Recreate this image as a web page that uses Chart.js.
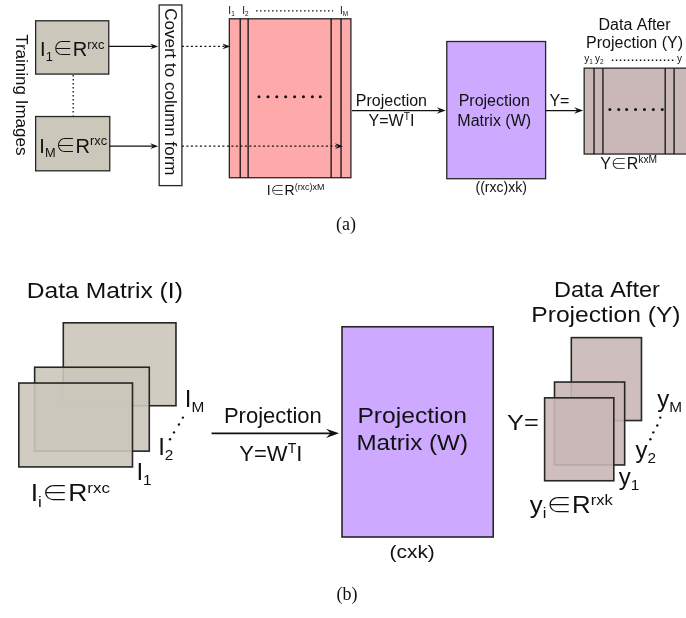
<!DOCTYPE html>
<html>
<head>
<meta charset="utf-8">
<script src="https://cdn.jsdelivr.net/npm/chart.js@4/dist/chart.umd.min.js"></script>
<style>
  html, body { margin: 0; padding: 0; background: #ffffff; }
  #wrap { width: 686px; height: 618px; }
</style>
</head>
<body>
<div id="wrap"><canvas id="c" width="686" height="618"></canvas></div>
<script>
// ---- palette & fonts ----
const INK = '#111111';
const EDGE = '#262626';
const GREY = '#cbc7bb';
const PINK = '#ffaaaa';
const PURPLE = '#cdaaff';
const BROWN = '#c9b8b7';
const SANS = "'Liberation Sans', Arial, Helvetica, sans-serif";
const SERIF = "'Liberation Serif', 'Times New Roman', serif";
const SYMBOL = "'Noto Sans CJK SC', 'Noto Sans CJK JP', 'DejaVu Sans', sans-serif";

// ---- panel (a): image -> column matrix -> projection ----
const imageBoxesA   = [[32, 17, 106, 71], [32, 114, 107, 169]];
const columnBox     = [157, 1, 180, 184];
const dataMatrixA   = [228, 15, 351, 176];
const dataColumnsA  = [239, 247, 331, 341];
const projBoxA      = [448, 38, 548, 177];
const resultMatrixA = [587, 65, 700, 152];
const resultColsA   = [597, 606, 669, 678];

// ---- panel (b): stacked images -> projection -> stacked results ----
const imageStackB  = [[60, 323, 174, 407], [31, 368, 147, 453], [15, 384, 130, 469]];
const projBoxB     = [342, 327, 495, 540];
const resultStackB = [[574, 338, 645, 422], [557, 383, 628, 467], [547, 399, 617, 483]];

// arrows: x0, y0, x1, y1, dashed, head length, line width
const arrows = [
  [106, 43, 156, 43, false, 8, 1.3],
  [107, 144, 156, 144, false, 8, 1.3],
  [180, 43, 229, 43, true, 8, 1.2],
  [180, 144, 343, 144, true, 8, 1.2],
  [352, 108, 447, 108, false, 9, 1.3],
  [548, 108, 586, 108, false, 9, 1.3],
  [210, 435, 339, 435, false, 13, 1.6]
];

// dotted connectors without heads
const dottedLines = [
  [70, 72, 70, 113],
  [255, 7, 333, 7],
  [615, 57, 680, 57]
];

// ellipsis dots drawn as scatter points
const ellipsisA1 = [[258, 94], [267, 94], [276, 94], [285, 94], [294, 94], [303, 94], [312, 94], [320, 94]];
const ellipsisA2 = [[613, 107], [622, 107], [630, 107], [639, 107], [648, 107], [657, 107], [666, 107]];
const ellipsisB1 = [[168, 441], [172, 434], [177, 426], [181, 419]];
const ellipsisB2 = [[654, 441], [657, 434], [661, 427], [664, 419]];

// text: markup uses _{..} for subscripts and ^{..} for superscripts
const labelsA = [
  { t: 'I_{1}∈R^{rxc}', x: 69, y: 53, s: 20 },
  { t: 'I_{M}∈R^{rxc}', x: 70, y: 151, s: 20 },
  { t: 'Training Images', x: 18, y: 92, s: 17, r: 90 },
  { t: 'Covert to column form', x: 168.5, y: 89, s: 17, r: 90 },
  { t: 'I_{1}', x: 227, y: 10, s: 10, a: 'left' },
  { t: 'I_{2}', x: 241, y: 10, s: 10, a: 'left' },
  { t: 'I_{M}', x: 340, y: 10, s: 10, a: 'left' },
  { t: 'I∈R^{(rxc)xM}', x: 295, y: 194, s: 14 },
  { t: 'Projection', x: 392, y: 103, s: 16 },
  { t: 'Y=W^{T}I', x: 392, y: 124, s: 16 },
  { t: 'Projection', x: 496, y: 103, s: 16 },
  { t: 'Matrix (W)', x: 496, y: 124, s: 16 },
  { t: '((rxc)xk)', x: 503, y: 190, s: 14 },
  { t: 'Y=', x: 562, y: 103, s: 16 },
  { t: 'Data After', x: 638, y: 26, s: 16 },
  { t: 'Projection (Y)', x: 638, y: 45, s: 16 },
  { t: 'y_{1}', x: 587, y: 59, s: 10, a: 'left' },
  { t: 'y_{2}', x: 598, y: 59, s: 10, a: 'left' },
  { t: 'y', x: 681, y: 59, s: 10, a: 'left' },
  { t: 'Y∈R^{kxM}', x: 632, y: 167, s: 16 },
  { t: '(a)', x: 346, y: 229, s: 18, f: SERIF }
];

const labelsB = [
  { t: 'Data Matrix (I)', x: 102, y: 298, s: 22, sx: 1.12 },
  { t: 'I_{M}', x: 183, y: 408, s: 24, a: 'left' },
  { t: 'I_{2}', x: 156, y: 457, s: 24, a: 'left' },
  { t: 'I_{1}', x: 134, y: 482, s: 24, a: 'left' },
  { t: 'I_{i}∈R^{rxc}', x: 27, y: 504, s: 23, a: 'left', sx: 1.15 },
  { t: 'Projection', x: 272, y: 425, s: 22 },
  { t: 'Y=W^{T}I', x: 270, y: 463, s: 22 },
  { t: 'Projection', x: 413, y: 425, s: 22, sx: 1.12 },
  { t: 'Matrix (W)', x: 413, y: 452, s: 22, sx: 1.1 },
  { t: '(cxk)', x: 413, y: 561, s: 19, sx: 1.1 },
  { t: 'Data After', x: 610, y: 297, s: 22, sx: 1.07 },
  { t: 'Projection (Y)', x: 609, y: 322, s: 22, sx: 1.12 },
  { t: 'Y=', x: 525, y: 432, s: 22, sx: 1.15 },
  { t: 'y_{M}', x: 661, y: 408, s: 24, a: 'left' },
  { t: 'y_{2}', x: 639, y: 460, s: 24, a: 'left' },
  { t: 'y_{1}', x: 622, y: 487, s: 24, a: 'left' },
  { t: 'y_{i}∈R^{rxk}', x: 532, y: 516, s: 23, a: 'left', sx: 1.12 },
  { t: '(b)', x: 347, y: 604, s: 18, f: SERIF }
];

// ---- drawing helpers ----
function parseRich(str) {
  const out = [];
  const re = /([_^])\{([^}]*)\}|(∈)|([^_^∈]+)/g;
  let m;
  while ((m = re.exec(str))) {
    if (m[3]) out.push([m[3], 'sym']);
    else if (m[4]) out.push([m[4], '']);
    else out.push([m[2], m[1] === '^' ? 'sup' : 'sub']);
  }
  return out;
}

function fontOf(kind, size, fam) {
  if (kind === 'sym') return '300 ' + size + 'px ' + SYMBOL;
  if (kind === 'sup' || kind === 'sub') return (size * 0.64) + 'px ' + fam;
  return size + 'px ' + fam;
}

function drawRich(ctx, item, px, py) {
  const size = item.s;
  const fam = item.f || SANS;
  const parts = parseRich(item.t).map(([t, k]) => {
    ctx.font = fontOf(k, size, fam);
    return { t, k, w: ctx.measureText(t).width };
  });
  const total = parts.reduce((acc, p) => acc + p.w, 0);
  const align = item.a || 'center';
  let cx = align === 'center' ? -total / 2 : align === 'right' ? -total : 0;
  ctx.save();
  ctx.translate(px, py);
  let base = 0;
  if (item.r) {
    ctx.rotate(item.r * Math.PI / 180);
    base = size * 0.35;
  }
  ctx.scale(item.sx || 1, 1);
  ctx.textAlign = 'left';
  ctx.textBaseline = 'alphabetic';
  ctx.fillStyle = INK;
  parts.forEach(p => {
    const dy = p.k === 'sup' ? -size * 0.38 : p.k === 'sub' ? size * 0.22 : 0;
    ctx.font = fontOf(p.k, size, fam);
    ctx.fillText(p.t, cx, base + dy);
    cx += p.w;
  });
  ctx.restore();
}

function toPx(chart, x, y) {
  return [chart.scales.x.getPixelForValue(x), chart.scales.y.getPixelForValue(y)];
}

function rect(ctx, chart, r, fill, lw) {
  const [x0, y0] = toPx(chart, r[0], r[1]);
  const [x1, y1] = toPx(chart, r[2], r[3]);
  ctx.fillStyle = fill;
  ctx.fillRect(x0, y0, x1 - x0, y1 - y0);
  ctx.lineWidth = lw;
  ctx.strokeStyle = EDGE;
  ctx.strokeRect(x0, y0, x1 - x0, y1 - y0);
}

function vLines(ctx, chart, xs, r, lw) {
  ctx.strokeStyle = INK;
  ctx.lineWidth = lw;
  xs.forEach(x => {
    const [px, top] = toPx(chart, x, r[1]);
    const [, bot] = toPx(chart, x, r[3]);
    ctx.beginPath();
    ctx.moveTo(px, top);
    ctx.lineTo(px, bot);
    ctx.stroke();
  });
}

function arrow(ctx, chart, a) {
  const [x0, y0] = toPx(chart, a[0], a[1]);
  const [x1, y1] = toPx(chart, a[2], a[3]);
  const len = a[5];
  const half = len * 0.36;
  const ang = Math.atan2(y1 - y0, x1 - x0);
  ctx.save();
  ctx.strokeStyle = INK;
  ctx.fillStyle = INK;
  ctx.lineWidth = a[6];
  ctx.setLineDash(a[4] ? [2, 2.5] : []);
  ctx.beginPath();
  ctx.moveTo(x0, y0);
  ctx.lineTo(x1 - Math.cos(ang) * len * 0.6, y1 - Math.sin(ang) * len * 0.6);
  ctx.stroke();
  ctx.setLineDash([]);
  ctx.translate(x1, y1);
  ctx.rotate(ang);
  ctx.beginPath();
  ctx.moveTo(0, 0);
  ctx.lineTo(-len, -half);
  ctx.lineTo(-len * 0.65, 0);
  ctx.lineTo(-len, half);
  ctx.closePath();
  ctx.fill();
  ctx.restore();
}

const diagram = {
  id: 'diagram',
  beforeDatasetsDraw(chart) {
    const ctx = chart.ctx;
    ctx.save();
    // panel (a)
    imageBoxesA.forEach(r => rect(ctx, chart, r, GREY, 1.3));
    rect(ctx, chart, columnBox, '#ffffff', 1.3);
    rect(ctx, chart, dataMatrixA, PINK, 1.3);
    vLines(ctx, chart, dataColumnsA, dataMatrixA, 1.3);
    rect(ctx, chart, projBoxA, PURPLE, 1.3);
    rect(ctx, chart, resultMatrixA, BROWN, 1.3);
    vLines(ctx, chart, resultColsA, resultMatrixA, 1.3);
    // panel (b): translucent sheets so the edges behind show faintly
    imageStackB.forEach(r => rect(ctx, chart, r, 'rgba(203,199,187,0.9)', 1.6));
    rect(ctx, chart, projBoxB, PURPLE, 1.6);
    resultStackB.forEach(r => rect(ctx, chart, r, 'rgba(201,184,183,0.9)', 1.6));
    // dotted connectors
    ctx.strokeStyle = INK;
    ctx.lineWidth = 1.3;
    ctx.setLineDash([1.5, 2.5]);
    dottedLines.forEach(l => {
      const [x0, y0] = toPx(chart, l[0], l[1]);
      const [x1, y1] = toPx(chart, l[2], l[3]);
      ctx.beginPath();
      ctx.moveTo(x0, y0);
      ctx.lineTo(x1, y1);
      ctx.stroke();
    });
    ctx.setLineDash([]);
    arrows.forEach(a => arrow(ctx, chart, a));
    ctx.restore();
  },
  afterDatasetsDraw(chart) {
    const ctx = chart.ctx;
    [...labelsA, ...labelsB].forEach(item => {
      const [px, py] = toPx(chart, item.x, item.y);
      drawRich(ctx, item, px, py);
    });
  }
};

const dotSet = (pts, r) => ({
  data: pts.map(([x, y]) => ({ x, y })),
  pointRadius: r,
  pointBackgroundColor: INK,
  pointBorderWidth: 0,
  showLine: false
});

new Chart(document.getElementById('c'), {
  type: 'scatter',
  data: {
    datasets: [
      dotSet(ellipsisA1, 1.5),
      dotSet(ellipsisA2, 1.5),
      dotSet(ellipsisB1, 1.2),
      dotSet(ellipsisB2, 1.2)
    ]
  },
  options: {
    responsive: false,
    animation: false,
    events: [],
    layout: { padding: 0 },
    scales: {
      x: { type: 'linear', min: 0, max: 686, display: false },
      y: { type: 'linear', min: 0, max: 618, reverse: true, display: false }
    },
    plugins: { legend: { display: false }, tooltip: { enabled: false } }
  },
  plugins: [diagram]
});
</script>
</body>
</html>
